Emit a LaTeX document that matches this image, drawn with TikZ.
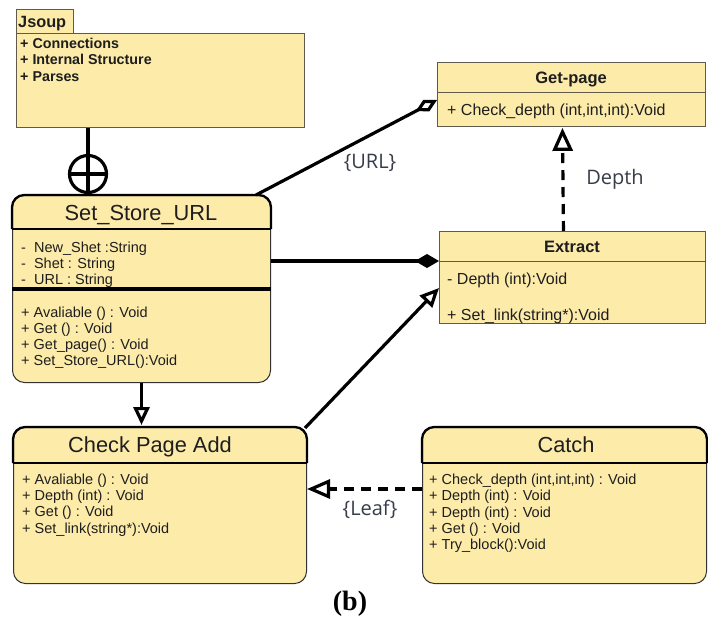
\documentclass[tikz,border=0pt]{standalone}
\usepackage{fontspec}
\setmainfont{Liberation Sans}
\newfontfamily\lblfont{Open Sans}
\newfontfamily\capfont{Liberation Serif}
\usetikzlibrary{arrows.meta,calc}

\definecolor{classfill}{RGB}{253,235,170}
\definecolor{thinedge}{RGB}{95,90,75}
\definecolor{inktext}{RGB}{30,30,30}
\definecolor{lbltext}{RGB}{55,60,72}

\tikzset{
  pkgbox/.style={draw=thinedge, line width=0.9pt, fill=classfill, anchor=north west, inner sep=0pt},
  roundbox/.style={draw=black!80, line width=1pt, fill=classfill, rounded corners=12pt, anchor=north west, inner sep=0pt},
  topedge/.style={draw=black, line width=2.2pt, rounded corners=12pt},
  hdrline/.style={draw=black, line width=1.6pt},
  thinline/.style={draw=thinedge, line width=0.9pt},
  member/.style={anchor=base west, inner sep=0pt, text=inktext, font=\fontsize{14.5}{16}\selectfont},
  bigmember/.style={member, font=\fontsize{16}{18}\selectfont},
  pkgmember/.style={member, font=\bfseries\fontsize{14.3}{16}\selectfont},
  bigtitle/.style={anchor=base, inner sep=0pt, text=inktext, font=\fontsize{21.8}{24}\selectfont},
  boldtitle/.style={anchor=base, inner sep=0pt, text=inktext, font=\bfseries\fontsize{16.5}{18}\selectfont},
  conn/.style={draw=black, line width=3.2pt},
  dashconn/.style={conn, dash pattern=on 10pt off 7pt},
  edgelabel/.style={inner sep=0pt, text=lbltext, font=\lblfont\fontsize{20}{23}\selectfont},
}

\begin{document}
\begin{tikzpicture}[x=1pt, y=-1pt]
\path[use as bounding box] (0,0) rectangle (708,619);

% ---------- Jsoup package ----------
\node[pkgbox, minimum width=288pt, minimum height=94pt] (jbody) at (16,33) {};
\node[pkgbox, minimum width=57pt, minimum height=24pt] (jtab) at (16,9) {};
\node[anchor=base west, inner sep=0pt, text=inktext, font=\bfseries\fontsize{16.3}{18}\selectfont] (jname) at (18,27) {Jsoup};
\foreach \t [count=\i from 0] in {{+ Connections},{+ Internal Structure},{+ Parses}}
  \node[pkgmember] (jm\i) at (20,48+\i*16.8) {\t};

% ---------- Set_Store_URL ----------
\node[roundbox, minimum width=258pt, minimum height=187pt] (ssu) at (12,195) {};
\draw[topedge] ([yshift=-34pt]ssu.north west) -- (ssu.north west) -- (ssu.north east) -- ([yshift=-34pt]ssu.north east);
\draw[hdrline] ([yshift=-34pt]ssu.north west) -- ([yshift=-34pt]ssu.north east);
\draw[conn] ([yshift=-94pt]ssu.north west) -- ([yshift=-94pt]ssu.north east);
\node[bigtitle] (ssu-t) at (141,220) {Set\_Store\_URL};
\foreach \t [count=\i from 0] in {{-~~New\_Shet :String},{-~~Shet : String},{-~~URL : String}}
  \node[member] (ssu-a\i) at (21,252+\i*16) {\t};
\foreach \t [count=\i from 0] in {{+ Avaliable () : Void},{+ Get () : Void},{+ Get\_page() : Void},{+ Set\_Store\_URL():Void}}
  \node[member] (ssu-m\i) at (21,317+\i*16.3) {\t};

% ---------- Get-page ----------
\node[pkgbox, minimum width=268pt, minimum height=64pt] (gp) at (437,62) {};
\draw[thinline] ([yshift=-30pt]gp.north west) -- ([yshift=-30pt]gp.north east);
\node[boldtitle] (gp-t) at (571,83) {Get-page};
\node[bigmember] (gp-m0) at (447,115) {+ Check\_depth (int,int,int):Void};

% ---------- Extract ----------
\node[pkgbox, minimum width=266pt, minimum height=92pt] (ext) at (439,231) {};
\draw[thinline] ([yshift=-30pt]ext.north west) -- ([yshift=-30pt]ext.north east);
\node[boldtitle] (ext-t) at (572,252) {Extract};
\node[bigmember] (ext-m0) at (447,284) {- Depth (int):Void};
\node[bigmember] (ext-m1) at (447,320) {+ Set\_link(string*):Void};

% ---------- Check Page Add ----------
\node[roundbox, minimum width=293pt, minimum height=156pt] (cpa) at (13,427) {};
\draw[topedge] ([yshift=-36pt]cpa.north west) -- (cpa.north west) -- (cpa.north east) -- ([yshift=-36pt]cpa.north east);
\draw[hdrline] ([yshift=-36pt]cpa.north west) -- ([yshift=-36pt]cpa.north east);
\node[bigtitle] (cpa-t) at (150,452.5) {Check Page Add};
\foreach \t [count=\i from 0] in {{+ Avaliable () : Void},{+ Depth (int) : Void},{+ Get () : Void},{+ Set\_link(string*):Void}}
  \node[member] (cpa-m\i) at (22,484+\i*16.4) {\t};

% ---------- Catch ----------
\node[roundbox, minimum width=284pt, minimum height=156pt] (catch) at (422,427) {};
\draw[topedge] ([yshift=-36pt]catch.north west) -- (catch.north west) -- (catch.north east) -- ([yshift=-36pt]catch.north east);
\draw[hdrline] ([yshift=-36pt]catch.north west) -- ([yshift=-36pt]catch.north east);
\node[bigtitle] (catch-t) at (566,452.5) {Catch};
\foreach \t [count=\i from 0] in {{+ Check\_depth (int,int,int) : Void},{+ Depth (int) : Void},{+ Depth (int) : Void},{+ Get () : Void},{+ Try\_block():Void}}
  \node[member] (catch-m\i) at (429,484.5+\i*16.3) {\t};

% ---------- connectors ----------
\node[draw=black, circle, line width=3.2pt, minimum size=37pt, inner sep=0pt] (jcirc) at (88,174) {};
\draw[conn] (jcirc |- jbody.south) -- (jcirc.north);
\draw[conn] (jcirc.north) -- (jcirc.south) (jcirc.west) -- (jcirc.east);

\draw[conn, -{Diamond[open, length=24pt, width=13pt]}] ([xshift=-15pt]ssu.north east) -- ([yshift=-38pt]gp.north west);
\draw[conn, -{Diamond[length=24pt, width=14pt]}] ([yshift=-66pt]ssu.north east) -- ([yshift=-30pt]ext.north west);
\draw[conn, -{Triangle[open, length=19pt, width=17pt]}] ([xshift=-2pt,yshift=-1pt]cpa.north east) -- ([yshift=-57pt]ext.north west);
\draw[conn, -{Triangle[open, length=18pt, width=16pt]}] (ssu.south) -- ([yshift=2pt]ssu.south |- cpa.north);
\draw[dashconn, -{Triangle[open, length=23pt, width=19pt]}] ([yshift=-62pt]catch.north west) -- ([yshift=-62pt]cpa.north east);
\draw[dashconn, -{Triangle[open, length=23pt, width=20pt]}] ([xshift=-9pt]ext.north) -- ([xshift=-9pt,yshift=-1pt]gp.south);

\node[edgelabel] (lbl-url) at (370,163) {\{URL\}};
\node[edgelabel] (lbl-depth) at (615,179) {Depth};
\node[edgelabel] (lbl-leaf) at (370,509) {\{Leaf\}};

\node[inner sep=0pt, font=\capfont\bfseries\fontsize{28}{30}\selectfont] (caption) at (350,604) {(b)};
\end{tikzpicture}
\end{document}
